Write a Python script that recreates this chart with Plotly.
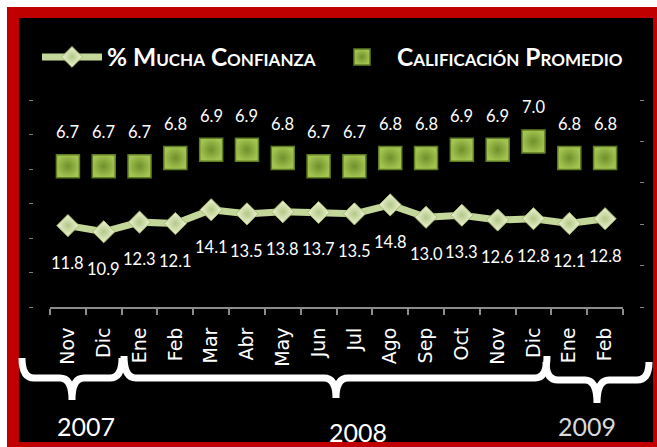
import plotly.graph_objects as go

# ---- data ----
months = ["Nov", "Dic", "Ene", "Feb", "Mar", "Abr", "May", "Jun", "Jul",
          "Ago", "Sep", "Oct", "Nov", "Dic", "Ene", "Feb"]
years = ["2007", "2007", "2008", "2008", "2008", "2008", "2008", "2008", "2008",
         "2008", "2008", "2008", "2008", "2008", "2009", "2009"]
confianza = [11.8, 10.9, 12.3, 12.1, 14.1, 13.5, 13.8, 13.7, 13.5,
             14.8, 13.0, 13.3, 12.6, 12.8, 12.1, 12.8]
calificacion = [6.7, 6.7, 6.7, 6.8, 6.9, 6.9, 6.8, 6.7, 6.7,
                6.8, 6.8, 6.9, 6.9, 7.0, 6.8, 6.8]
year_labels = ["2007", "2008", "2009"]
series_names = ["% Mucha Confianza", "Calificación Promedio"]

cats = [f"{m} {y}" for m, y in zip(months, years)]

W, H = 657, 447
def px(x):
    return x / W
def py(y):
    return 1 - y / H

fig = go.Figure()
fig.add_trace(go.Scatter(
    x=cats, y=confianza, name=series_names[0], mode="lines+markers",
    line=dict(color="#c4d79b", width=7),
    marker=dict(symbol="diamond", size=17, color="#eef3d6",
                gradient=dict(type="radial", color="#b3c886"),
                line=dict(color="#a6bb6a", width=1)),
    yaxis="y", legend="legend"))
fig.add_trace(go.Scatter(
    x=cats, y=calificacion, name=series_names[1], mode="markers",
    marker=dict(symbol="square", size=23, color="#a3c450",
                gradient=dict(type="radial", color="#6f8f2c"),
                line=dict(color="#5f7d24", width=1.5)),
    yaxis="y2", legend="legend2"))

label_font = dict(family="Lato", size=16.5, color="white")
annotations = []
for c, v in zip(cats, confianza):
    annotations.append(dict(x=c, y=v, xref="x", yref="y", text=f"{v:.1f}",
                            showarrow=False, yshift=-37, font=label_font))
for c, v in zip(cats, calificacion):
    annotations.append(dict(x=c, y=v, xref="x", yref="y2", text=f"{v:.1f}",
                            showarrow=False, yshift=34, font=label_font))

# year labels, centred under their month groups
year_x = {"2007": (0.5, 0), "2008": (7.5, 21), "2009": (14.5, 0)}
year_y = {"2007": 426, "2008": 432, "2009": 426}
for yl in year_labels:
    cx, xs = year_x[yl]
    annotations.append(dict(x=cx, y=py(year_y[yl]), xref="x", yref="paper",
                            xanchor="center", yanchor="middle",
                            text=yl, showarrow=False, xshift=xs,
                            font=dict(family="Lato", size=25,
                                      color="white" if yl != "2009" else "#d9d9d9")))

shapes = [
    dict(type="rect", xref="paper", yref="paper", x0=px(7), x1=px(670),
         y0=py(460), y1=py(7), fillcolor="#c00000", line=dict(width=0), layer="below"),
    dict(type="rect", xref="paper", yref="paper", x0=px(19), x1=px(653),
         y0=py(442), y1=py(18), fillcolor="black", line=dict(width=0), layer="below"),
]

def brace(x0, x1, xm, ytop, ybar, ytip, r=12):
    p = (f"M{px(x0)},{py(ytop)} Q{px(x0)},{py(ybar)} {px(x0 + r)},{py(ybar)} "
         f"L{px(xm - r)},{py(ybar)} Q{px(xm)},{py(ybar)} {px(xm)},{py(ytip)} "
         f"Q{px(xm)},{py(ybar)} {px(xm + r)},{py(ybar)} "
         f"L{px(x1 - r)},{py(ybar)} Q{px(x1)},{py(ybar)} {px(x1)},{py(ytop)}")
    return dict(type="path", xref="paper", yref="paper", path=p,
                line=dict(color="white", width=7))

shapes.append(brace(22, 122, 72, 358, 378, 400))
shapes.append(brace(124, 547, 336, 356, 378, 398))
shapes.append(brace(546, 649, 597, 362, 380, 403))

legend_font = dict(family="Lato", size=24.5, color="white", weight="bold",
                   variant="small-caps")

fig.update_layout(
    width=W, height=H,
    margin=dict(l=0, r=0, t=0, b=0),
    paper_bgcolor="white", plot_bgcolor="rgba(0,0,0,0)",
    showlegend=True,
    legend=dict(orientation="h", x=px(37), xanchor="left", y=py(57), yanchor="middle",
                bgcolor="rgba(0,0,0,0)", itemwidth=60, font=legend_font),
    legend2=dict(orientation="h", x=px(327), xanchor="left", y=py(57), yanchor="middle",
                 bgcolor="rgba(0,0,0,0)", itemwidth=60, font=legend_font),
    xaxis=dict(domain=[px(50), px(623)], type="category", range=[-0.5, 15.5],
               tickmode="array", tickvals=cats, ticktext=months,
               tickangle=-90, ticks="outside", tickson="boundaries", ticklen=6,
               tickcolor="#8c8c8c", tickwidth=1.5,
               showline=True, linecolor="#8c8c8c", linewidth=2,
               showgrid=False, zeroline=False, ticklabelstandoff=11,
               tickfont=dict(family="DejaVu Sans", size=19, color="white"),
               anchor="y"),
    yaxis=dict(domain=[py(307), py(100)], range=[0, 30], tick0=0, dtick=5,
               ticks="outside", ticklen=4, tickcolor="#808080",
               showticklabels=False, showline=False, showgrid=False, zeroline=False,
               anchor="free", position=px(33)),
    yaxis2=dict(domain=[py(307), py(100)], range=[5, 7.5], tick0=5, dtick=0.5,
                overlaying="y", side="right",
                ticks="outside", ticklen=4, tickcolor="#808080",
                showticklabels=False, showline=False, showgrid=False, zeroline=False,
                anchor="free", position=px(639)),
    annotations=annotations,
    shapes=shapes,
)

fig.write_html("out.html", config={"displayModeBar": False},
               post_script="document.body.style.margin='0px';document.body.style.overflow='hidden';")
